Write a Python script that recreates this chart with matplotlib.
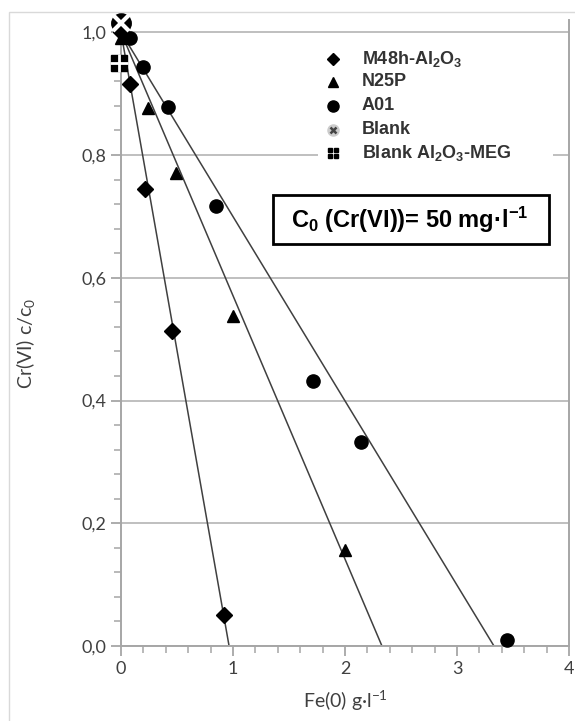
import matplotlib
matplotlib.use('Agg')
import matplotlib.pyplot as plt
from matplotlib.patches import Rectangle

plt.rcParams['font.family'] = ['Lato', 'DejaVu Sans']
plt.rcParams['mathtext.fontset'] = 'custom'
plt.rcParams['mathtext.rm'] = 'Lato'
plt.rcParams['mathtext.bf'] = 'Liberation Sans:bold'

# data
m48_x = [0.0, 0.08, 0.21, 0.455, 0.92]
m48_y = [1.0, 0.915, 0.744, 0.513, 0.05]
n25_x = [0.0, 0.24, 0.49, 1.0, 2.0]
n25_y = [0.99, 0.877, 0.77, 0.537, 0.156]
a01_x = [0.08, 0.2, 0.42, 0.85, 1.71, 2.14, 3.45]
a01_y = [0.99, 0.943, 0.878, 0.717, 0.432, 0.332, 0.01]
blank_x = [0.0]
blank_y = [1.015]
meg_x = [-0.02]
meg_y = [0.95]
# fitted lines: start at (0, 1) and reach 0 at these x values
fit_x0 = [0.965, 2.33, 3.33]

W, H = 575, 721


def fx(px):
    return px / W


def fy(py):
    return 1 - py / H


fig = plt.figure(figsize=(5.75, 7.21), dpi=100)
fig.patches.append(Rectangle((fx(9), -0.1), 1.2, fy(12) + 0.1,
                             transform=fig.transFigure, fill=False,
                             edgecolor='#d9d9d9', lw=1))
ax = fig.add_axes([fx(121), fy(646), 448 / W, 626 / H])

for x0 in fit_x0:
    ax.plot([0, x0], [1, 0], color='#404040', lw=1.1, zorder=2)

ax.plot(m48_x, m48_y, 'D', color='black', ms=8.5, clip_on=False, zorder=4)
ax.plot(n25_x, n25_y, '^', color='black', ms=8.5, clip_on=False, zorder=4)
ax.plot(a01_x, a01_y, 'o', color='black', ms=9.5, clip_on=False, zorder=4)
ax.plot(meg_x, meg_y, 's', color='black', ms=12, clip_on=False, zorder=5)
ax.plot(meg_x, meg_y, '+', color='white', ms=13, mew=2, clip_on=False, zorder=6)
ax.plot(blank_x, blank_y, 'o', color='black', ms=14, clip_on=False, zorder=5)
ax.plot(blank_x, blank_y, 'x', color='white', ms=12, mew=3, clip_on=False, zorder=6)

ax.set_xlim(0, 4)
ax.set_ylim(0, 1.02)
ax.set_xticks([0, 1, 2, 3, 4])
ax.set_yticks([0, 0.2, 0.4, 0.6, 0.8, 1.0])
ax.set_yticklabels(['0,0', '0,2', '0,4', '0,6', '0,8', '1,0'])
ax.set_xticks([i * 0.2 for i in range(21)], minor=True)
ax.set_yticks([i * 0.04 for i in range(26)], minor=True)
ax.tick_params(which='both', direction='out', color='#a6a6a6', labelsize=13,
               labelcolor='#404040')
ax.tick_params(which='major', length=7, width=1.3)
ax.tick_params(which='minor', length=5, width=1.1)
ax.grid(axis='y', color='#bfbfbf', lw=1.4)
ax.set_axisbelow(True)
for s in ['left', 'bottom', 'right']:
    ax.spines[s].set_color('#a6a6a6')
    ax.spines[s].set_linewidth(1.4)
ax.spines['top'].set_visible(False)

ax.set_xlabel('Fe(0) g·l$^{-1}$', fontsize=14, color='#404040', labelpad=8)
ax.set_ylabel('Cr(VI) c/c$_0$', fontsize=14, color='#404040')
ax.yaxis.set_label_coords(-0.186, 0.484)

# legend
labels = ['M48h-Al$\\mathbf{_2}$O$\\mathbf{_3}$', 'N25P', 'A01', 'Blank',
          'Blank Al$\\mathbf{_2}$O$\\mathbf{_3}$-MEG']
ly = [59, 82, 106, 130, 153]
ax.add_patch(Rectangle((fx(318), fy(168)), 235 / W, 122 / H, transform=fig.transFigure,
                       facecolor='white', edgecolor='none', zorder=3, clip_on=False))
mx = fx(333)
ax.plot([mx], [fy(ly[0])], 'D', color='black', ms=6.5, transform=fig.transFigure,
        clip_on=False, zorder=4)
ax.plot([mx], [fy(ly[1])], '^', color='black', ms=7, transform=fig.transFigure,
        clip_on=False, zorder=4)
ax.plot([mx], [fy(ly[2])], 'o', color='black', ms=8, transform=fig.transFigure,
        clip_on=False, zorder=4)
ax.plot([mx], [fy(ly[3])], 'o', color='#cccccc', ms=8, transform=fig.transFigure,
        clip_on=False, zorder=4)
ax.plot([mx], [fy(ly[3])], 'x', color='#444444', ms=5, mew=1.8, ls='none',
        transform=fig.transFigure, clip_on=False, zorder=5)
ax.plot([fx(330), fx(336), fx(330), fx(336)],
        [fy(ly[4] - 3), fy(ly[4] - 3), fy(ly[4] + 3), fy(ly[4] + 3)], 's',
        color='black', ms=3.2, ls='none', transform=fig.transFigure,
        clip_on=False, zorder=4)
for lab, y in zip(labels, ly):
    ax.text(fx(362), fy(y), lab, fontsize=13, fontweight='bold',
            family=['Liberation Sans', 'DejaVu Sans'], color='#333333',
            va='center', ha='left', transform=fig.transFigure, zorder=5)

fig.text(fx(410), fy(220), 'C$\\mathbf{_0}$ (Cr(VI))= 50 mg·l$\\mathbf{^{-1}}$',
         fontsize=17, fontweight='bold', family=['Liberation Sans', 'DejaVu Sans'],
         ha='center', va='center', color='black')
fig.patches.append(Rectangle((fx(273), fy(244)), 276 / W, 49 / H,
                             transform=fig.transFigure, fill=False,
                             edgecolor='black', lw=2))

fig.savefig('out.png', dpi=100)
